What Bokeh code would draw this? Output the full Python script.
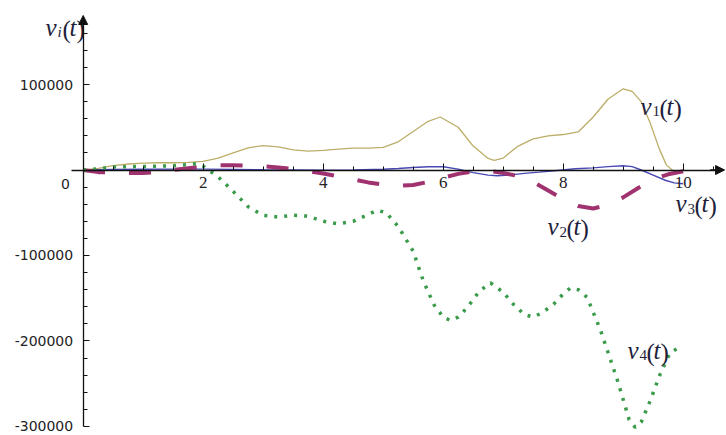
from bokeh.plotting import figure
from bokeh.models import Range1d, FixedTicker, Arrow, NormalHead
from bokeh.core.properties import value
from bokeh.embed import file_html
from bokeh.resources import INLINE

# ---- data ----
t1 = [0, 0.25, 0.5, 0.75, 1.0, 1.25, 1.5, 1.75, 2.0, 2.25, 2.5, 2.75, 3.0, 3.25, 3.5, 3.75,
      4.0, 4.25, 4.5, 4.75, 5.0, 5.25, 5.5, 5.75, 5.95, 6.25, 6.5, 6.75, 6.85, 7.0, 7.25, 7.5,
      7.75, 8.0, 8.25, 8.5, 8.75, 9.0, 9.15, 9.3, 9.45, 9.6, 9.72, 9.85]
v1 = [0, 2000, 5000, 7000, 8000, 8500, 8500, 9000, 10000, 14000, 20000, 26000, 28500, 27000,
      23500, 22000, 23000, 24500, 25500, 25500, 26500, 33000, 45000, 57000, 62000, 50000, 28000,
      13500, 11300, 14000, 28000, 36500, 40000, 41500, 44500, 62000, 83000, 95000, 92000, 80000,
      55000, 25000, 6000, -2000]

t2 = [0, 0.25, 0.5, 0.75, 1.0, 1.25, 1.5, 1.75, 2.0, 2.25, 2.5, 2.75, 3.0, 3.25, 3.5, 3.75,
      4.0, 4.25, 4.5, 4.75, 5.0, 5.25, 5.5, 5.75, 6.0, 6.25, 6.5, 6.75, 7.0, 7.25, 7.5, 7.75,
      8.0, 8.25, 8.5, 8.75, 9.0, 9.25, 9.5, 9.75, 10.0]
v2 = [0, -2500, -3000, -3500, -3500, -2500, 0, 2000, 4000, 5500, 5500, 5000, 4500, 3000, 1000,
      -1500, -4000, -7500, -11000, -14500, -17000, -18500, -17500, -14000, -9000, -4500, -1500,
      -1000, -3500, -7000, -14000, -24000, -34000, -42000, -45000, -41000, -32000, -21000,
      -11000, -5000, -1500]

t3 = [0, 0.5, 1.0, 1.5, 2.0, 2.5, 3.0, 3.5, 4.0, 4.5, 5.0, 5.25, 5.5, 5.75, 6.0, 6.25, 6.5,
      6.75, 6.9, 7.1, 7.35, 7.6, 7.9, 8.2, 8.5, 8.75, 9.0, 9.15, 9.3, 9.5, 9.7, 9.85, 10.0]
v3 = [0, 500, 800, 1000, 1000, 700, 300, 0, -300, 0, 800, 1800, 3000, 3800, 3800, 1000, -3000,
      -6000, -6800, -6000, -4000, -2500, -500, 1500, 2500, 4000, 5000, 4000, 0, -6000, -12000,
      -15000, -16000]

t4 = [0, 0.25, 0.5, 0.75, 1.0, 1.25, 1.5, 1.75, 1.9, 2.0, 2.1, 2.25, 2.5, 2.75, 3.0, 3.25,
      3.5, 3.75, 4.0, 4.25, 4.5, 4.75, 4.9, 5.05, 5.25, 5.5, 5.67, 5.85, 6.0, 6.12, 6.25, 6.4,
      6.6, 6.79, 7.0, 7.17, 7.35, 7.5, 7.65, 7.84, 8.0, 8.12, 8.25, 8.4, 8.62, 8.9, 9.1, 9.2,
      9.3, 9.45, 9.62, 9.78, 9.9, 10.0]
v4 = [0, 1500, 3500, 4000, 4000, 4500, 5000, 6500, 7500, 4500, -500, -8000, -25000, -43000,
      -53000, -55000, -53000, -54000, -60000, -63000, -60000, -52000, -47000, -50000, -66000,
      -95000, -130000, -158000, -172000, -176000, -172000, -161000, -142000, -132000, -143000,
      -157000, -169000, -172000, -167000, -157000, -145000, -138000, -140000, -149000, -187000,
      -245000, -292000, -301000, -295000, -270000, -238000, -214000, -209000, -209000]

x_tick_vals = [2, 4, 6, 8, 10]
x_tick_labels = ["2", "4", "6", "8", "10"]
y_tick_vals = [100000, -100000, -200000, -300000]
y_tick_labels = ["100000", "-100000", "-200000", "-300000"]

# curve labels: (t, v of the baseline-left anchor, subscript)
labels = [(-0.63, 166700, "i"), (9.29, 74300, "1"), (7.74, -66100, "2"),
          (9.87, -39200, "3"), (9.07, -211100, "4")]

# ---- figure ----
p = figure(width=726, height=435, x_range=Range1d(-1.378, 10.722),
           y_range=Range1d(-310530, 198250), output_backend="svg",
           toolbar_location=None, min_border=0, min_border_left=0, min_border_right=0,
           min_border_top=0, min_border_bottom=0, outline_line_color=None,
           background_fill_color="white", border_fill_color="white")
p.grid.visible = False

xa = p.xaxis[0]
xa.fixed_location = 0
xa.bounds = (-0.2, 10.6)
xa.ticker = FixedTicker(ticks=x_tick_vals,
                        minor_ticks=[i * 0.5 for i in range(1, 22) if i % 4 != 0])
xa.major_label_overrides = {v: s for v, s in zip(x_tick_vals, x_tick_labels)}
xa.major_label_text_font = "Liberation Serif"
xa.major_label_text_font_size = "17px"
xa.major_label_text_color = "#222222"
xa.major_label_standoff = 7
xa.major_tick_in = 7
xa.major_tick_out = 0
xa.minor_tick_in = 4
xa.minor_tick_out = 0

ya = p.yaxis[0]
ya.fixed_location = 0
ya.bounds = (-300000, 178000)
ya.ticker = FixedTicker(ticks=y_tick_vals,
                        minor_ticks=[k * 20000 for k in range(-14, 9) if k % 5 != 0])
ya.major_label_overrides = {v: s for v, s in zip(y_tick_vals, y_tick_labels)}
ya.major_label_text_font = "DejaVu Sans"
ya.major_label_text_font_size = "14px"
ya.major_label_text_color = "#222222"
ya.major_label_standoff = 10
ya.major_tick_in = 6
ya.major_tick_out = 0
ya.minor_tick_in = 4
ya.minor_tick_out = 0

for ax in (xa, ya):
    ax.axis_line_color = "#111111"
    ax.axis_line_width = 1.3
    ax.major_tick_line_color = "#111111"
    ax.minor_tick_line_color = "#111111"

# ---- curves ----
p.line(t1, v1, line_color="#bcae68", line_width=1.3)
p.line(t3, v3, line_color="#4848b4", line_width=1.4)
p.line(t2, v2, line_color="#a0336f", line_width=4, line_dash="22 24")
p.line(t4, v4, line_color="#3a9b4a", line_width=3.5, line_dash="3 7")

# ---- axis arrows ----
p.add_layout(Arrow(end=NormalHead(size=9, fill_color="#111111", line_color="#111111"),
                   x_start=0, y_start=165000, x_end=0, y_end=180700,
                   line_color="#111111", line_width=1.3))
p.add_layout(Arrow(end=NormalHead(size=9, fill_color="#111111", line_color="#111111"),
                   x_start=10.45, y_start=0, x_end=10.69, y_end=0,
                   line_color="#111111", line_width=1.3))

# origin label
p.text(x=[-0.295], y=[-15800], text=["0"], text_font=value("DejaVu Sans"),
       text_font_size="14px", text_color="#222222", text_align="center",
       text_baseline="middle")

# ---- curve labels ----
lc = "#1e1e3c"
serif = value("Liberation Serif")
for (lx, ly, sub) in labels:
    narrow = sub == "i"
    p.text(x=[lx], y=[ly], text=["v"], text_font=serif, text_font_style="italic",
           text_font_size="25px", text_color=lc, text_baseline="alphabetic")
    p.text(x=[lx], y=[ly], text=[sub], text_font=serif,
           text_font_style="italic" if narrow else "normal",
           text_font_size="15px", text_color=lc, text_baseline="alphabetic",
           x_offset=12, y_offset=5)
    o = 17 if narrow else 19
    p.text(x=[lx], y=[ly], text=["("], text_font=serif, text_font_size="25px",
           text_color=lc, text_baseline="alphabetic", x_offset=o, y_offset=2)
    p.text(x=[lx], y=[ly], text=["t"], text_font=serif, text_font_style="italic",
           text_font_size="25px", text_color=lc, text_baseline="alphabetic", x_offset=o + 7)
    p.text(x=[lx], y=[ly], text=[")"], text_font=serif, text_font_size="25px",
           text_color=lc, text_baseline="alphabetic", x_offset=o + 14, y_offset=2)

open("out.html", "w").write(file_html(p, INLINE))
